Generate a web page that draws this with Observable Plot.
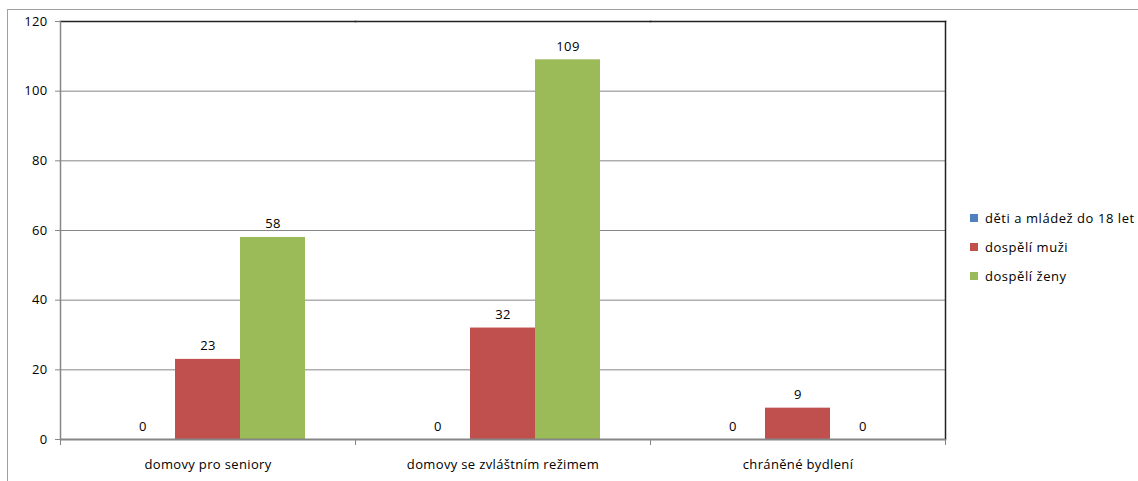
<!DOCTYPE html>
<html>
<head>
<meta charset="utf-8">
<script src="https://cdn.jsdelivr.net/npm/d3@7"></script>
<script src="https://cdn.jsdelivr.net/npm/@observablehq/plot@0.6"></script>
<style>
  html, body { margin: 0; padding: 0; background: #fff; }
  #wrap { position: relative; width: 1138px; height: 481px; overflow: hidden; font-family: "Open Sans", sans-serif; }
  #border { position: absolute; left: 7px; top: 9px; width: 1200px; height: 600px; border: 1px solid #a0a0a0; box-sizing: border-box; }
  #legend { position: absolute; left: 970px; top: 203px; font-size: 13px; color: #000; letter-spacing: 0.55px; }
  #legend div { display: flex; align-items: center; height: 29px; white-space: nowrap; }
  #legend span.sw { display: inline-block; width: 8px; height: 8px; margin-right: 7px; }
  svg { position: absolute; left: 0; top: 0; letter-spacing: 0.35px; }
</style>
</head>
<body>
<div id="wrap"><div id="border"></div><div id="chart"></div><div id="legend"></div></div>
<script>
const categories = ["domovy pro seniory", "domovy se zvláštním režimem", "chráněné bydlení"];
const series = ["děti a mládež do 18 let", "dospělí muži", "dospělí ženy"];
const colors = ["#4F81BD", "#C0504D", "#9BBB59"];
const valuesChildren = [0, 0, 0];
const valuesMen = [23, 32, 9];
const valuesWomen = [58, 109, 0];
const yTicks = [0, 20, 40, 60, 80, 100, 120];

const allValues = [valuesChildren, valuesMen, valuesWomen];
const data = [];
categories.forEach((c, i) => {
  series.forEach((s, j) => data.push({category: c, series: s, value: allValues[j][i]}));
});

const W = 1138, H = 481, mt = 21, mb = 42;
const plot = Plot.plot({
  width: W, height: H,
  marginLeft: 60, marginRight: 193, marginTop: mt, marginBottom: mb,
  style: {fontFamily: "'Open Sans', sans-serif", fontSize: "13px", color: "#000", background: "transparent"},
  fx: {domain: categories, padding: 0, label: null},
  x: {domain: series, paddingInner: 0, paddingOuter: 0.735, axis: null},
  y: {domain: [0, 120], ticks: yTicks, label: null},
  color: {domain: series, range: colors},
  marks: [
    Plot.gridY(yTicks.filter(d => d > 0 && d < 120), {stroke: "#868686", strokeOpacity: 1, strokeWidth: 1}),
    Plot.frame({anchor: "top", stroke: "#222", strokeWidth: 1.5}),
    Plot.frame({anchor: "right", fx: () => categories[2], stroke: "#222", strokeWidth: 1.5}),
    Plot.barY(data, {fx: "category", x: "series", y: "value", fill: "series"}),
    Plot.text(data, {fx: "category", x: "series", y: "value", text: d => String(d.value), lineAnchor: "bottom", dy: -9, fill: "#000", fontSize: 13}),
    Plot.frame({anchor: "left", fx: () => categories[0], stroke: "#868686", strokeWidth: 1.5}),
    Plot.axisY({ticks: yTicks, tickSize: 5, tickPadding: 8, stroke: "#868686", fill: "#000", fontSize: 13, label: null}),
    Plot.ruleY([0], {stroke: "#868686", strokeWidth: 2}),
    Plot.axisFx({anchor: "bottom", tickSize: 0, tickPadding: 20, fontSize: 13, label: null, fill: "#000"}),
    Plot.frame({anchor: "left", stroke: "#868686", insetTop: H - mt - mb, insetBottom: -5}),
    Plot.frame({anchor: "right", stroke: "#868686", insetTop: H - mt - mb, insetBottom: -5})
  ]
});
document.getElementById("chart").appendChild(plot);

const leg = document.getElementById("legend");
series.forEach((s, i) => {
  const row = document.createElement("div");
  row.innerHTML = `<span class="sw" style="background:${colors[i]}"></span><span>${s}</span>`;
  leg.appendChild(row);
});
</script>
</body>
</html>
